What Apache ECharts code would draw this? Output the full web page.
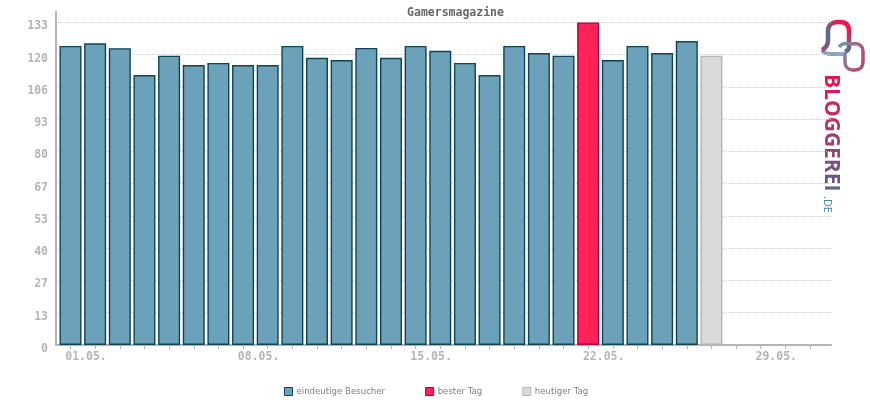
<!DOCTYPE html>
<html>
<head>
<meta charset="utf-8">
<style>
  html, body { margin: 0; padding: 0; background: #fff; }
  #chart { width: 870px; height: 400px; }
</style>
<script src="https://cdn.jsdelivr.net/npm/echarts@6/dist/echarts.min.js"></script>
</head>
<body>
<div id="chart"></div>
<script>
const days = [1, 2, 3, 4, 5, 6, 7, 8, 9, 10, 11, 12, 13, 14, 15, 16, 17, 18, 19, 20, 21, 22, 23, 24, 25, 26, 27]
const visitors = [123.3, 124.4, 122.4, 111.3, 119.3, 115.4, 116.3, 115.4, 115.4, 123.3, 118.4, 117.5, 122.5, 118.4, 123.3, 121.3, 116.3, 111.3, 123.3, 120.4, 119.3, null, 117.5, 123.3, 120.4, 125.3, null]
const bestDay = [null, null, null, null, null, null, null, null, null, null, null, null, null, null, null, null, null, null, null, null, null, 133, null, null, null, null, null]
const today = [null, null, null, null, null, null, null, null, null, null, null, null, null, null, null, null, null, null, null, null, null, null, null, null, null, null, 119.3]
const xTicks = [1, 2, 3, 4, 5, 6, 7, 8, 9, 10, 11, 12, 13, 14, 15, 16, 17, 18, 19, 20, 21, 22, 23, 24, 25, 26, 27, 28, 29, 30, 31]
const xLabels = { 1: '01.05.', 8: '08.05.', 15: '15.05.', 22: '22.05.', 29: '29.05.' }
const logoLetters = ['B', 'L', 'O', 'G', 'G', 'E', 'R', 'E', 'I']
const logoColors = ['#e3184f', '#d61f58', '#c52a62', '#b5336a', '#a23c72', '#8f4578', '#7c4f80', '#6b5887', '#5d6590']

const mono = '"DejaVu Sans Mono", monospace'
const axisGrey = '#b4b4b4'

const makeBar = function(name, values, fill, border) {
  return {
    name: name,
    type: 'bar',
    barWidth: 22,
    barGap: '-100%',
    itemStyle: { color: fill, borderColor: border, borderWidth: 1.4 },
    data: days.map((d, i) => [d, values[i]])
  }
}

// the graphic component has no plain path type, so the logo strokes get registered
echarts.graphic.registerShape('logoBell', echarts.graphic.extendPath('M822 50 C826 48 828 45 828 40 L828 31 C828 25 832 22 838 22 L840 22 C846 22 849 25 849 31 L849 47 C849 50 847 51 845 52'))
echarts.graphic.registerShape('logoTail', echarts.graphic.extendPath('M822 50 C824 53 827 54 830 54 L845 54'))
echarts.graphic.registerShape('logoLoop', echarts.graphic.extendPath('M839 47 C841 44 845 43 848 44 L855 43.5 C860 43.5 863 47 863 51 L863 62 C863 67 860 70 855 70 L853 70 C848 70 845 67 845 62 L845 53'))

const logoRich = {}
logoLetters.forEach((l, i) => {
  logoRich['l' + i] = { fill: logoColors[i], fontSize: 21, fontWeight: 'bold', fontFamily: '"Open Sans", sans-serif' }
})

const chart = echarts.init(document.getElementById('chart'), null, { renderer: 'canvas' })

chart.setOption({
  backgroundColor: '#ffffff',
  animation: false,
  title: {
    text: 'Gamersmagazine',
    left: 450.5,
    textAlign: 'center',
    top: 2,
    textStyle: { fontFamily: mono, fontSize: 11.5, fontWeight: 'bold', color: '#666666' }
  },
  legend: {
    left: 284,
    top: 387,
    padding: 0,
    itemWidth: 8,
    itemHeight: 8,
    itemGap: 40,
    icon: 'rect',
    selectedMode: false,
    itemStyle: { borderWidth: 1 },
    textStyle: { fontFamily: '"DejaVu Sans", sans-serif', fontSize: 8.6, color: '#808080', padding: [0, 0, 0, -1] }
  },
  grid: { left: 56, right: 39, top: 12, bottom: 55 },
  xAxis: {
    type: 'value',
    min: 0.412,
    max: 31.85,
    splitLine: { show: false },
    axisLine: { show: true, onZero: false, lineStyle: { color: axisGrey, width: 2 } },
    axisTick: { show: true, length: 4, customValues: xTicks, lineStyle: { color: axisGrey, width: 1 } },
    axisLabel: {
      customValues: Object.keys(xLabels).map(Number),
      formatter: v => xLabels[v],
      fontFamily: mono,
      fontSize: 11.5,
      fontWeight: 'bold',
      color: axisGrey,
      margin: 6,
      padding: [0, 0, 0, 31]
    }
  },
  yAxis: {
    type: 'value',
    min: 0,
    max: 137.3,
    interval: 13.3,
    axisLine: { show: true, lineStyle: { color: axisGrey, width: 2 } },
    axisTick: { show: false },
    splitLine: { show: true, showMinLine: false, showMaxLine: false, lineStyle: { color: '#cccccc', type: 'dotted', width: 1 } },
    axisLabel: {
      showMaxLabel: false,
      formatter: v => String(Math.round(v)),
      fontFamily: mono,
      fontSize: 11.5,
      fontWeight: 'bold',
      color: axisGrey,
      margin: 8,
      verticalAlign: 'top',
      lineHeight: 8
    }
  },
  series: [
    makeBar('eindeutige Besucher', visitors, '#6ba2b9', '#0f4358'),
    makeBar('bester Tag', bestDay, '#ff2258', '#a8003a'),
    makeBar('heutiger Tag', today, '#dadada', '#b4b4b4')
  ],
  graphic: [
    {
      type: 'logoTail',
      silent: true,
      style: {
        fill: null,
        lineWidth: 4,
        stroke: new echarts.graphic.LinearGradient(0, 0, 1, 0, [
          { offset: 0, color: '#6ba2b9' },
          { offset: 1, color: '#a8a8bc' }
        ])
      }
    },
    {
      type: 'logoBell',
      silent: true,
      style: {
        fill: null,
        lineWidth: 4.5,
        stroke: new echarts.graphic.LinearGradient(0, 1, 1, 0, [
          { offset: 0, color: '#a8446f' },
          { offset: 0.5, color: '#55708f' },
          { offset: 0.8, color: '#f0154d' },
          { offset: 1, color: '#f0154d' }
        ])
      }
    },
    {
      type: 'logoLoop',
      silent: true,
      style: {
        fill: null,
        lineWidth: 3.5,
        stroke: new echarts.graphic.LinearGradient(0, 0, 1, 0.4, [
          { offset: 0, color: '#6ba2b9' },
          { offset: 1, color: '#b24a74' }
        ])
      }
    },
    {
      type: 'text',
      silent: true,
      x: 820.5,
      y: 74,
      rotation: -Math.PI / 2,
      style: {
        text: logoLetters.map((l, i) => '{l' + i + '|' + l + '}').join(''),
        rich: logoRich,
        textVerticalAlign: 'bottom'
      }
    },
    {
      type: 'text',
      silent: true,
      x: 822,
      y: 196,
      rotation: -Math.PI / 2,
      style: {
        text: '.DE',
        font: '11px "Open Sans", sans-serif',
        textVerticalAlign: 'bottom',
        fill: '#3f86a8'
      }
    }
  ]
})
</script>
</body>
</html>
